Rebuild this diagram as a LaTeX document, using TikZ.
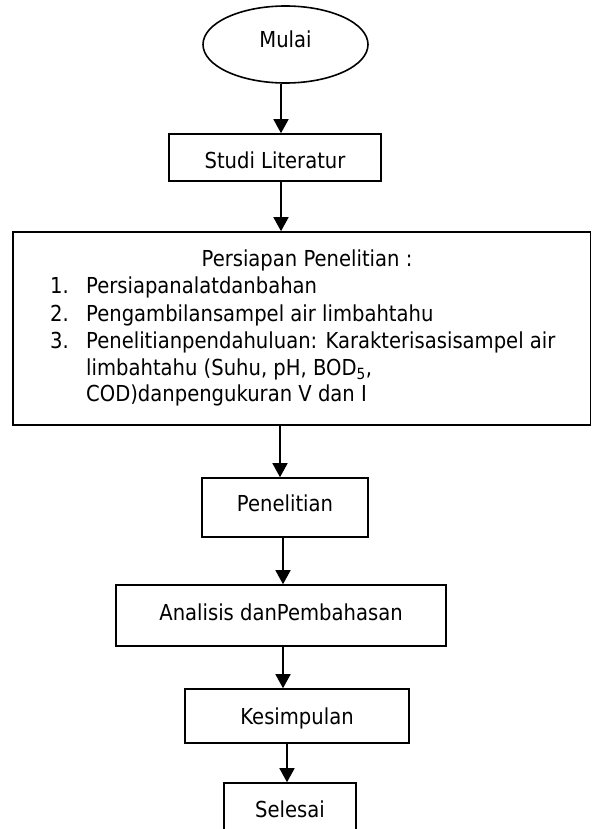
\documentclass[tikz,border=0pt]{standalone}
\usepackage{fontspec}
\setmainfont{DejaVu Sans}[FakeStretch=0.89]
\usetikzlibrary{shapes.geometric,arrows.meta}
\begin{document}
\begin{tikzpicture}[x=1pt,y=-1pt,
  every node/.style={font=\fontsize{22}{27}\selectfont, text height=16pt, text depth=0pt, inner sep=0pt},
  procbox/.style={draw, line width=1.6pt, rectangle},
  termbox/.style={draw, line width=1.6pt, ellipse},
  txt/.style={anchor=west},
  arr/.style={line width=1.6pt, -{Triangle[length=14pt,width=15pt]}}
]
\path[use as bounding box] (0,0) rectangle (592,829);
\fill[white] (0,0) rectangle (592,829);
\clip (0,0) rectangle (592,829);

\node[termbox, minimum width=165pt, minimum height=77pt, text depth=9pt] (mulai) at (285.5,44.5) {Mulai};
\node[procbox, minimum width=212pt, minimum height=47pt, text height=21pt] (studi) at (275,157.5) {Studi Literatur};
\node[procbox, minimum width=577.5pt, minimum height=193pt] (persiapan) at (301.75,328.5) {};
\node (judul) at (307,258) {Persiapan Penelitian :};
\node[txt] (n1) at (50,285) {1.};
\node[txt] (t1) at (86,285) {Persiapanalatdanbahan};
\node[txt] (n2) at (50,313) {2.};
\node[txt] (t2) at (86,313) {Pengambilansampel air limbahtahu};
\node[txt] (n3) at (50,340) {3.};
\node[txt] (t3) at (86,340) {Penelitianpendahuluan: Karakterisasisampel air};
\node[txt] (t4) at (86,367) {limbahtahu (Suhu, pH, BOD\textsubscript{5},};
\node[txt] (t5) at (86,393) {COD)danpengukuran V dan I};
\node[procbox, minimum width=166pt, minimum height=59pt, text depth=9pt] (penelitian) at (285,507.5) {Penelitian};
\node[procbox, minimum width=330pt, minimum height=61pt, text depth=7pt] (analisis) at (281,615.5) {Analisis danPembahasan};
\node[procbox, minimum width=224pt, minimum height=54pt] (kesimpulan) at (297,716) {Kesimpulan};
\node[procbox, minimum width=132pt, minimum height=52pt] (selesai) at (290,809) {Selesai};

\draw[arr] ([xshift=-4.5pt]mulai.south) -- ([xshift=-4.5pt]mulai.south |- studi.north);
\draw[arr] ([xshift=6pt]studi.south) -- ([xshift=6pt]studi.south |- persiapan.north);
\draw[arr] ([xshift=-21.75pt]persiapan.south) -- ([xshift=-21.75pt]persiapan.south |- penelitian.north);
\draw[arr] ([xshift=-2pt]penelitian.south) -- ([xshift=-2pt]penelitian.south |- analisis.north);
\draw[arr] ([xshift=2pt]analisis.south) -- ([xshift=2pt]analisis.south |- kesimpulan.north);
\draw[arr] ([xshift=-10pt]kesimpulan.south) -- ([xshift=-10pt]kesimpulan.south |- selesai.north);
\end{tikzpicture}
\end{document}
